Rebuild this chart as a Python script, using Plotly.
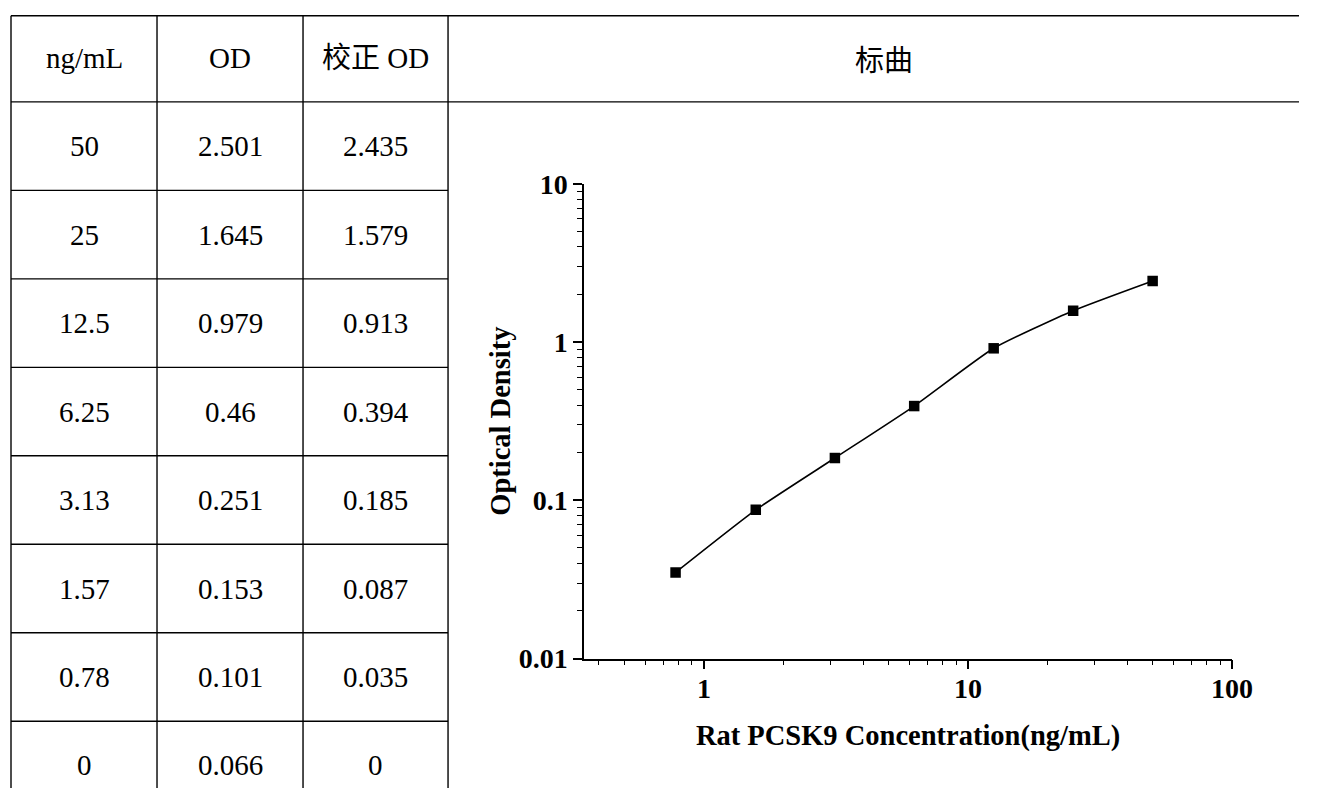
import plotly.graph_objects as go

# ---- data ----
conc = [50, 25, 12.5, 6.25, 3.13, 1.57, 0.78, 0]
od = [2.501, 1.645, 0.979, 0.46, 0.251, 0.153, 0.101, 0.066]
corrected_od = [2.435, 1.579, 0.913, 0.394, 0.185, 0.087, 0.035, 0]
headers = ["ng/mL", "OD", "校正 OD", "标曲"]
x_title = "Rat PCSK9 Concentration(ng/mL)"
y_title = "Optical Density"

W, H = 1320, 804
# the photographed page is slightly shrunk/shifted; map target pixel positions
SX, SY, OY = 0.984, 0.966, 13.4


def px(x):
    return min(max((x / SX) / W, 0), 1)


def py(y):
    return min(max(1 - ((y - OY) / SY) / H, 0), 1)


# table geometry (target pixels)
col_x = [11, 157, 303, 448, 1341]
top_y = 14.2
head_y = 100.7
row_h = 88.9
n_rows = len(conc)

serif = "Liberation Serif"
cjk = "Noto Sans CJK SC"

# plotted points (non-zero concentrations)
pts = [(c, v) for c, v in zip(conc, corrected_od) if c > 0]
xs = [p[0] for p in pts][::-1]
ys = [p[1] for p in pts][::-1]

fig = go.Figure()
fig.add_trace(go.Scatter(
    x=xs, y=ys, mode="lines+markers",
    line=dict(color="black", width=1.6, shape="spline", smoothing=0.5),
    marker=dict(symbol="square", size=10.5, color="black"),
    showlegend=False, hoverinfo="skip",
))

shapes = []
lw = 1.4
line_style = dict(color="black", width=lw)
# horizontal lines
shapes.append(dict(type="line", xref="paper", yref="paper",
                   x0=px(col_x[0]), x1=1, y0=py(top_y), y1=py(top_y), line=line_style))
shapes.append(dict(type="line", xref="paper", yref="paper",
                   x0=px(col_x[0]), x1=1, y0=py(head_y), y1=py(head_y), line=line_style))
for i in range(1, n_rows):
    yy = head_y + i * row_h
    shapes.append(dict(type="line", xref="paper", yref="paper",
                       x0=px(col_x[0]), x1=px(col_x[3]), y0=py(yy), y1=py(yy),
                       line=line_style))
# vertical lines
for cx in col_x[:4]:
    shapes.append(dict(type="line", xref="paper", yref="paper",
                       x0=px(cx), x1=px(cx), y0=py(top_y), y1=0, line=line_style))

annotations = []
# headers
for j, htxt in enumerate(headers):
    cx = (col_x[j] + min(col_x[j + 1], 1320)) / 2
    fam = cjk if j == 3 else serif
    annotations.append(dict(xref="paper", yref="paper", x=px(cx), y=py((12.7 + head_y) / 2),
                            text=htxt, showarrow=False, xanchor="center", yanchor="middle",
                            font=dict(family=f"{fam}, {cjk}", size=29, color="black")))
# cells
columns = [conc, od, corrected_od]
for i in range(n_rows):
    cy = head_y + (i + 0.5) * row_h
    for j, col in enumerate(columns):
        cx = (col_x[j] + col_x[j + 1]) / 2
        annotations.append(dict(xref="paper", yref="paper", x=px(cx), y=py(cy),
                                text=f"{col[i]:g}", showarrow=False,
                                xanchor="center", yanchor="middle",
                                font=dict(family=serif, size=29, color="black")))

axis_font = dict(family=serif, size=28, color="black", weight="bold")
title_font = dict(family=serif, size=28.5, color="black", weight="bold")

fig.update_layout(
    autosize=True,
    margin=dict(l=0, r=0, t=0, b=0),
    paper_bgcolor="white", plot_bgcolor="white",
    shapes=shapes, annotations=annotations,
    xaxis=dict(
        type="log", range=[-0.4545, 2], domain=[px(584), px(1232)],
        showgrid=False, zeroline=False,
        showline=True, linecolor="black", linewidth=1.6,
        ticks="outside", ticklen=9, tickwidth=1.6, tickcolor="black",
        tickvals=[1, 10, 100], ticktext=["1", "10", "100"],
        tickfont=axis_font, ticklabelstandoff=-5,
        minor=dict(ticks="outside", ticklen=5, tickwidth=1.4, tickcolor="black",
                   dtick="D1", showgrid=False),
        title=dict(text=x_title, font=title_font, standoff=22),
        anchor="y",
    ),
    yaxis=dict(
        type="log", range=[-2, 1], domain=[py(660), py(183)],
        showgrid=False, zeroline=False,
        showline=True, linecolor="black", linewidth=1.6,
        ticks="outside", ticklen=9, tickwidth=1.6, tickcolor="black",
        tickvals=[0.01, 0.1, 1, 10], ticktext=["0.01", "0.1", "1", "10"],
        tickfont=axis_font,
        minor=dict(ticks="outside", ticklen=5, tickwidth=1.4, tickcolor="black",
                   dtick="D1", showgrid=False),
        title=dict(text=y_title, font=title_font, standoff=0),
        anchor="x",
    ),
)

post = ("document.documentElement.style.margin='0';"
        "document.body.style.margin='0';document.body.style.padding='0';"
        "document.documentElement.style.overflow='hidden';"
        "document.body.style.overflow='hidden';")
fig.write_html("out.html", post_script=post, default_width="100vw", default_height="100vh",
               config=dict(displayModeBar=False, responsive=True))
